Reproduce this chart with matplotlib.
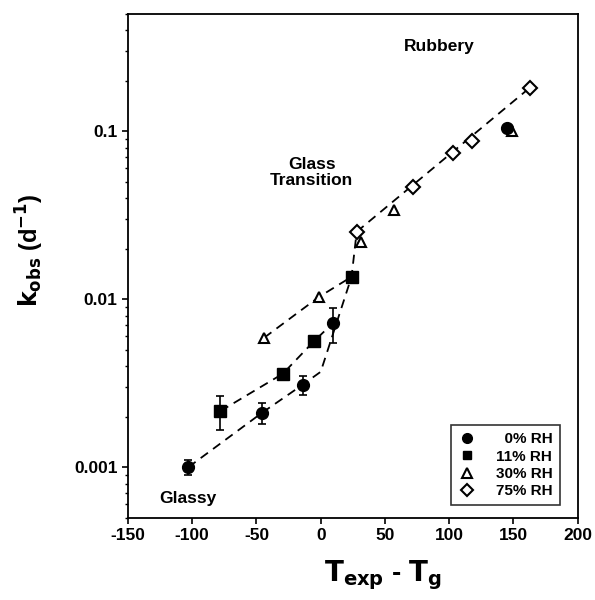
import numpy as np
import matplotlib.pyplot as plt
from matplotlib.lines import Line2D
from matplotlib.ticker import LogLocator, NullFormatter, FixedLocator

# data
x_0rh = [-103, -46, -14, 9.5, 145]
k_0rh = [0.001, 0.0021, 0.0031, 0.0072, 0.105]
err_0rh = [0.0001, 0.0003, 0.0004, 0.0017, 0.002]

x_11rh = [-78, -29.5, -5, 24]
k_11rh = [0.00216, 0.0036, 0.00565, 0.0136]
err_11rh = [0.0005, 0.0002, 0.0004, 0.0008]

x_30rh = [-44, -1.5, 31, 57, 149]
k_30rh = [0.0059, 0.0103, 0.0218, 0.034, 0.101]

x_75rh = [28, 72, 103, 118, 162.5]
k_75rh = [0.0252, 0.0465, 0.074, 0.087, 0.181]

# dashed trend lines (vertices)
fit1_x = [-103, -46, -14, 0, 24, 28]
fit1_k = [0.001, 0.0021, 0.0031, 0.0037, 0.0136, 0.0252]
fit2_x = [-78, -29.5, -5, 9.5]
fit2_k = [0.00216, 0.0036, 0.00565, 0.0072]
fit3_x = [-44, -1.5, 24]
fit3_k = [0.0059, 0.0103, 0.0136]
fit4_x = [28, 162.5]
fit4_k = [0.0252, 0.181]

x_ticks = [-150, -100, -50, 0, 50, 100, 150, 200]
legend_labels = ['\u20070% RH', '11% RH', '30% RH', '75% RH']


def main():
    plt.rcParams['font.family'] = ['Liberation Sans', 'DejaVu Sans']
    plt.rcParams['font.weight'] = 'bold'

    fig = plt.figure(figsize=(5.95, 6.0), dpi=100)
    ax = fig.add_axes([0.215, 0.137, 0.756, 0.840])

    dash = dict(color='black', lw=1.3, ls=(0, (5, 3.5)), zorder=1)
    for fx, fk in [(fit1_x, fit1_k), (fit2_x, fit2_k), (fit3_x, fit3_k), (fit4_x, fit4_k)]:
        ax.plot(fx, fk, **dash)

    ax.errorbar(x_0rh, k_0rh, yerr=err_0rh, fmt='o', color='black', ms=8.5,
                capsize=3, elinewidth=1.2, capthick=1.2, zorder=3)
    ax.errorbar(x_11rh, k_11rh, yerr=err_11rh, fmt='s', color='black', ms=8,
                capsize=3, elinewidth=1.2, capthick=1.2, zorder=3)
    ax.plot(x_30rh, k_30rh, '^', mfc='white', mec='black', mew=1.5, ms=7.5,
            ls='none', zorder=3)
    ax.plot(x_75rh, k_75rh, 'D', mfc='white', mec='black', mew=1.5, ms=7.5,
            ls='none', zorder=3)

    ax.set_yscale('log')
    ax.set_xlim(-150, 200)
    ax.set_ylim(0.0005, 0.5)
    ax.xaxis.set_major_locator(FixedLocator(x_ticks))
    ax.set_xticklabels([str(t) for t in x_ticks])
    ax.yaxis.set_major_locator(FixedLocator([0.001, 0.01, 0.1]))
    ax.set_yticklabels(['0.001', '0.01', '0.1'])
    ax.yaxis.set_minor_locator(LogLocator(base=10, subs=np.arange(2, 10)))
    ax.yaxis.set_minor_formatter(NullFormatter())

    ax.tick_params(axis='both', which='major', direction='out', length=4,
                   width=1.2, labelsize=12.5, top=False, right=False)
    ax.tick_params(axis='y', which='minor', direction='out', length=2.5,
                   width=1, right=False)
    for lab in ax.get_xticklabels() + ax.get_yticklabels():
        lab.set_fontweight('bold')
    for sp in ax.spines.values():
        sp.set_linewidth(1.3)

    ax.set_xlabel(r'$\mathbf{T_{exp}}$ - $\mathbf{T_g}$', fontsize=20,
                  fontweight='bold', labelpad=11, x=0.567)
    ax.set_ylabel(r'$\mathbf{k_{obs}}$ (d$^{\mathbf{-1}}$)', fontsize=17,
                  fontweight='bold', labelpad=20, y=0.53)

    ax.text(92, 0.32, 'Rubbery', ha='center', va='center', fontsize=12.5,
            fontweight='bold')
    ax.text(-7, 0.057, 'Glass\nTransition', ha='center', va='center',
            fontsize=12.5, fontweight='bold', linespacing=1.1)
    ax.text(-103, 0.00065, 'Glassy', ha='center', va='center', fontsize=12.5,
            fontweight='bold')

    handles = [
        Line2D([], [], marker='o', color='black', ls='none', ms=7),
        Line2D([], [], marker='s', color='black', ls='none', ms=6),
        Line2D([], [], marker='^', mfc='white', mec='black', mew=1.5, ls='none', ms=7),
        Line2D([], [], marker='D', mfc='white', mec='black', mew=1.5, ls='none', ms=6.5),
    ]
    leg = ax.legend(handles, legend_labels, loc='lower right', fontsize=11,
                    frameon=True, fancybox=False, edgecolor='black',
                    handletextpad=1.3, borderpad=0.45, labelspacing=0.22,
                    handlelength=1.2, borderaxespad=0.0,
                    bbox_to_anchor=(0.96, 0.025))
    leg.get_frame().set_linewidth(1.2)
    for t in leg.get_texts():
        t.set_fontweight('bold')

    plt.savefig('out.png', dpi=100)
    plt.close()


if __name__ == '__main__':
    main()
